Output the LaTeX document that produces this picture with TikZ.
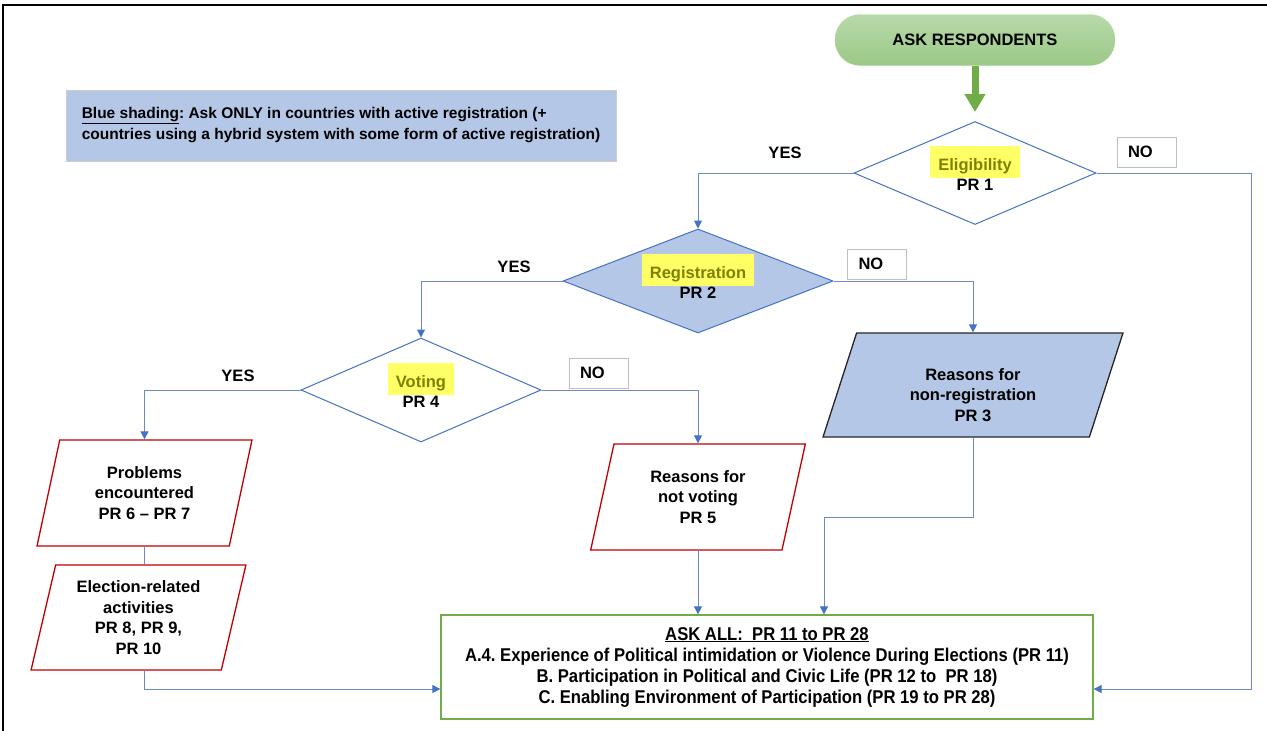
\documentclass[tikz,border=0pt]{standalone}
\usepackage{fontspec}
\setmainfont{Liberation Sans}
\newfontfamily\narrowfont[FakeStretch=0.9]{Liberation Sans}
\frenchspacing
\usetikzlibrary{shapes.geometric,arrows.meta,positioning}
\definecolor{shadeblue}{RGB}{180,199,231}
\definecolor{lineblue}{RGB}{68,114,196}
\definecolor{linkblue}{RGB}{108,138,198}
\definecolor{boxred}{RGB}{192,0,0}
\definecolor{boxgreen}{RGB}{112,173,71}
\definecolor{starttop}{RGB}{184,218,170}
\definecolor{startbot}{RGB}{155,200,134}
\definecolor{hlyellow}{RGB}{255,255,102}
\definecolor{hltext}{RGB}{128,128,0}
\newcommand\hlmark[1]{{\fboxsep=0pt\colorbox{hlyellow}{\hspace{8pt}\rule[-8pt]{0pt}{32pt}\textcolor{hltext}{#1}\hspace{8pt}}}}
\newcommand\prline[1]{#1\rule[-9pt]{0pt}{9pt}}
\begin{document}
\begin{tikzpicture}[x=1pt,y=-1pt,
        every node/.style={font=\bfseries\fontsize{16.5}{20.5}\selectfont, inner sep=0pt},
        link/.style={draw=linkblue, line width=1pt},
        linkarrow/.style={-{Triangle[length=8pt,width=8pt,color=lineblue]}},
        decision/.style={diamond, draw=lineblue, line width=1pt, align=center, aspect=2.3},
        reason/.style={trapezium, trapezium left angle=76, trapezium right angle=104,
            trapezium stretches=true, minimum height=106pt, minimum width=215pt,
            draw=boxred, line width=1.3pt, fill=white, align=center},
        answer/.style={draw=black!25, fill=white, text width=37pt, inner xsep=11pt, minimum height=30pt}
    ]
    \useasboundingbox (0,0) rectangle (1267,731);
    \draw[line width=1.6pt] (3,731) -- (3,5) -- (1267,5);

    % legend
    \node[draw=black!20, fill=shadeblue, minimum width=550pt, minimum height=71pt, align=left,
        font=\bfseries\fontsize{15.5}{21}\selectfont] (legend) at (341,125.5)
        {\underline{Blue shading}: Ask ONLY in countries with active registration (+\\
         countries using a hybrid system with some form of active registration)};

    % start and decisions
    \node[draw=starttop, top color=starttop, bottom color=startbot, rounded corners=25pt,
        minimum width=280pt, minimum height=51pt] (start) at (975,40) {ASK RESPONDENTS};
    \node[decision, minimum width=242pt, minimum height=103pt] (elig) at (975,173)
        {\hlmark{Eligibility}\\\prline{PR 1}};
    \node[decision, fill=shadeblue, minimum width=270pt, minimum height=104pt] (reg) at (698,281)
        {\hlmark{Registration}\\\prline{PR 2}};
    \node[decision, minimum width=240pt, minimum height=104pt] (vote) at (421,390)
        {\hlmark{Voting}\\\prline{PR 4}};

    % reasons
    \node[reason, draw=black!85, fill=shadeblue, minimum width=300pt, minimum height=104pt] (nonreg) at (973,385)
        {\rule{0pt}{32pt}Reasons for\\non-registration\\PR 3};
    \node[reason] (novote) at (698,497) {Reasons for\\not voting\\PR 5};
    \node[reason] (probs) at (144.5,493) {Problems\\encountered\\PR 6 -- PR 7};
    \node[reason, minimum height=105pt] (elect) at (138.5,617.5) {Election-related\\activities\\PR 8, PR 9,\\PR 10};

    % ask all
    \node[draw=boxgreen, line width=1.3pt, minimum width=652pt, minimum height=104pt, align=center,
        font=\narrowfont\bfseries\fontsize{18.5}{21}\selectfont] (askall) at (767,667)
        {\underline{ASK ALL:\ \ PR 11 to PR 28}\\
         A.4. Experience of Political intimidation or Violence During Elections (PR 11)\\
         B. Participation in Political and Civic Life (PR 12 to\ \ PR 18)\\
         C. Enabling Environment of Participation (PR 19 to PR 28)};

    % labels
    \foreach \x/\y [count=\i] in {785/153,514/267,238/376}
        \node (yes\i) at (\x,\y) {YES};
    \foreach \x/\y [count=\i] in {1146.5/152,877/264,598.5/373}
        \node[answer] (no\i) at (\x,\y) {NO};

    % connectors
    \coordinate (rail) at (1251,689);
    \coordinate (bend) at (824,517);
    \draw[line width=7pt, draw=boxgreen, -{Triangle[length=18pt,width=20pt]}, shorten >=9pt]
        (start.south) -- (elig.north);
    \draw[link, linkarrow] (elig.west) -| (reg.north);
    \draw[link, linkarrow] (elig.east) -| (rail) -- (askall.east |- rail);
    \draw[link, linkarrow] (reg.west) -| (vote.north);
    \draw[link, linkarrow] (reg.east) -| (nonreg.north);
    \draw[link, linkarrow] (vote.west) -| (probs.north);
    \draw[link, linkarrow] (vote.east) -| (novote.north);
    \draw[link] (probs.south) -- (probs.south |- elect.north);
    \draw[link, linkarrow] (probs.south |- elect.south) |- (askall.west |- rail);
    \draw[link, linkarrow] (novote.south) -- (novote.south |- askall.north);
    \draw[link, linkarrow] (nonreg.south) |- (bend) -- (bend |- askall.north);
\end{tikzpicture}
\end{document}
